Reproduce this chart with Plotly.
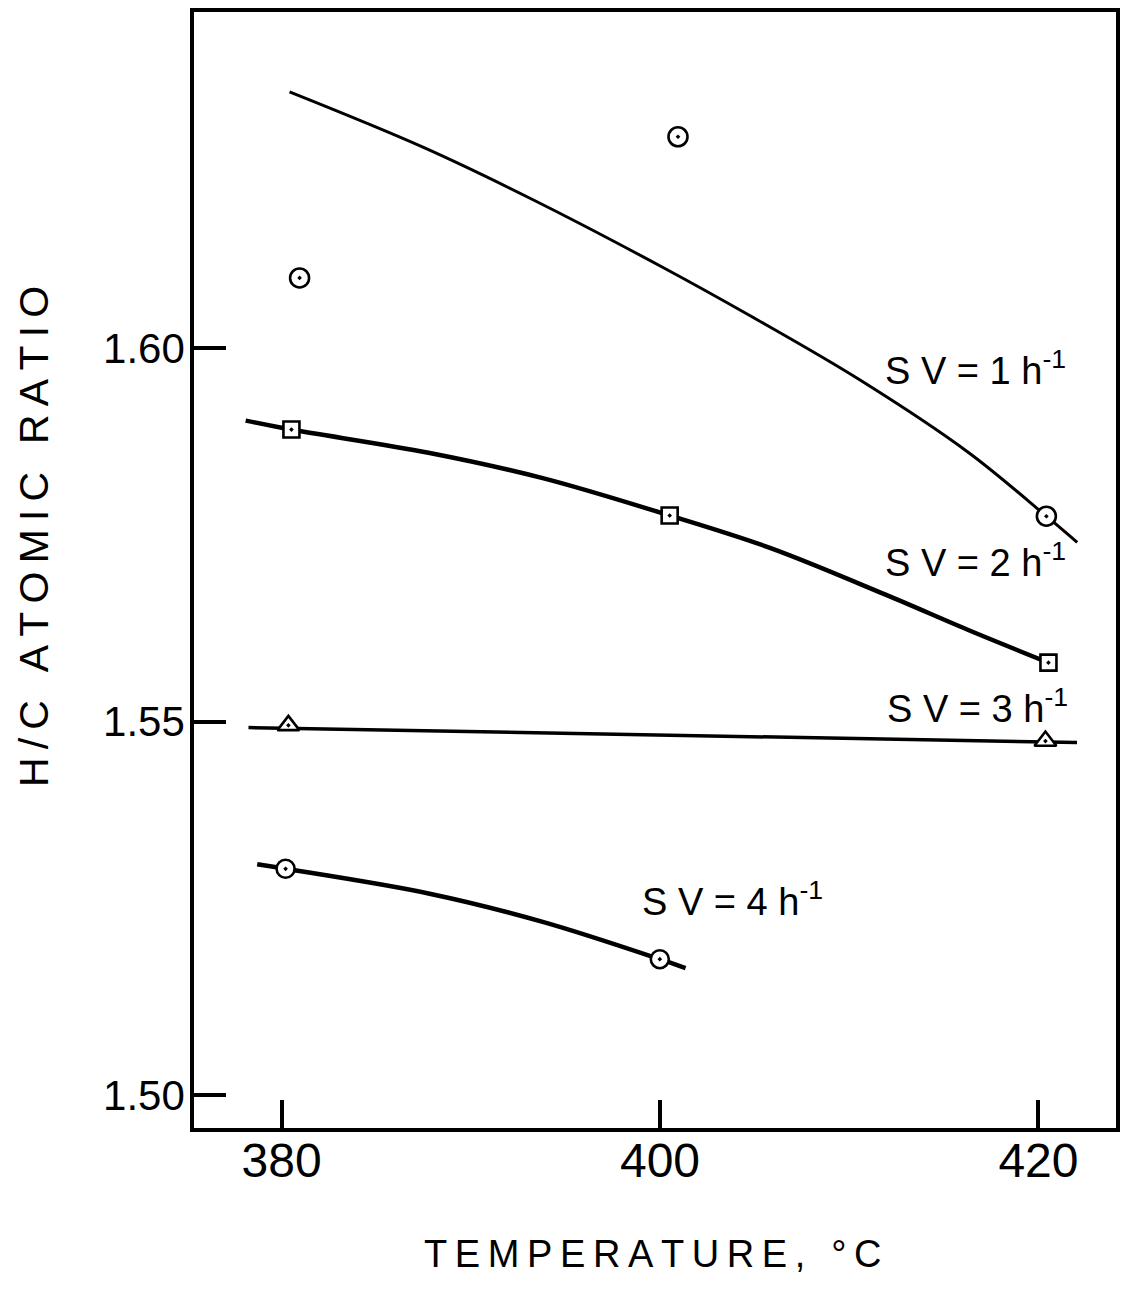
import plotly.graph_objects as go

# Smoothed fit curves, one per space velocity (temperature in degC, H/C ratio)
sv1_curve_t = [380.42, 387.47, 393.26, 400.16, 404.79, 410.53, 416.32, 420.42, 422.05]
sv1_curve_hc = [1.6343, 1.6269, 1.6199, 1.6108, 1.6043, 1.5958, 1.5860, 1.5775, 1.5740]
sv2_curve_t = [378.10, 380.52, 387.76, 393.80, 400.51, 405.88, 411.92, 416.45, 420.53]
sv2_curve_hc = [1.5903, 1.5891, 1.5860, 1.5826, 1.5776, 1.5732, 1.5670, 1.5621, 1.5579]
sv3_curve_t = [378.25, 422.04]
sv3_curve_hc = [1.5492, 1.5472]
sv4_curve_t = [378.71, 380.21, 387.76, 393.80, 399.99, 401.35]
sv4_curve_hc = [1.5309, 1.5303, 1.5270, 1.5232, 1.5182, 1.5170]

# Measured points
sv1_t = [380.95, 400.95, 420.42]
sv1_hc = [1.6094, 1.6283, 1.5775]
sv2_t = [380.52, 400.51, 420.53]
sv2_hc = [1.5891, 1.5776, 1.5579]
sv3_t = [380.36, 420.37]
sv3_hc = [1.5495, 1.5474]
sv4_t = [380.21, 399.99]
sv4_hc = [1.5303, 1.5182]

x_ticks = [380, 400, 420]
y_ticks = [1.50, 1.55, 1.60]
y_tick_labels = ["1.50", "1.55", "1.60"]

curve_labels = ["1", "2", "3", "4"]
label_t = [411.8, 411.8, 411.9, 398.95]
label_hc = [1.5974, 1.5717, 1.5521, 1.5263]

FONT = "Liberation Sans"
INK = "black"


def spaced(text, sep="\u2009"):
    """Hand-lettered look: open up the letter spacing."""
    return sep.join(text)


fig = go.Figure()

curves = [
    (sv1_curve_t, sv1_curve_hc, 3),
    (sv2_curve_t, sv2_curve_hc, 4.5),
    (sv3_curve_t, sv3_curve_hc, 3.5),
    (sv4_curve_t, sv4_curve_hc, 4.5),
]
for t, hc, w in curves:
    fig.add_trace(go.Scatter(
        x=t, y=hc, mode="lines",
        line=dict(color=INK, width=w, shape="spline", smoothing=1.0),
        hoverinfo="skip", showlegend=False,
    ))

points = [
    (sv1_t, sv1_hc, "circle-dot", 19),
    (sv2_t, sv2_hc, "square-dot", 16),
    (sv3_t, sv3_hc, "triangle-up-dot", 19),
    (sv4_t, sv4_hc, "circle-dot", 18),
]
for t, hc, sym, size in points:
    fig.add_trace(go.Scatter(
        x=t, y=hc, mode="markers",
        marker=dict(symbol=sym, size=size, color="white",
                    line=dict(color=INK, width=2.6)),
        showlegend=False,
    ))

for lab, t, hc in zip(curve_labels, label_t, label_hc):
    fig.add_annotation(
        x=t, y=hc, xref="x", yref="y", xanchor="left", yanchor="middle",
        text="S V = " + lab + " h<sup>-1</sup>", showarrow=False,
        font=dict(family=FONT, size=38, color=INK),
    )

# Axis titles
fig.add_annotation(
    x=-0.174, y=0.53, xref="paper", yref="paper",
    text=spaced("H/C ATOMIC RATIO"), textangle=-90, showarrow=False,
    xanchor="center", yanchor="middle",
    font=dict(family=FONT, size=41, color=INK),
)
fig.add_annotation(
    x=0.497, y=-0.113, xref="paper", yref="paper",
    text=spaced("TEMPERATURE, °C"), showarrow=False,
    xanchor="center", yanchor="middle",
    font=dict(family=FONT, size=38, color=INK),
)

fig.update_xaxes(
    range=[375.37, 424.1], tickvals=x_ticks, ticks="inside", ticklen=28,
    tickwidth=3.5, tickcolor=INK, showline=True, linewidth=3.5, linecolor=INK,
    mirror=True, showgrid=False, zeroline=False, ticklabelstandoff=-12,
    tickfont=dict(family=FONT, size=48, color=INK),
)
fig.update_yaxes(
    range=[1.4956, 1.6450], tickvals=y_ticks, ticktext=y_tick_labels,
    ticks="inside", ticklen=32, tickwidth=3.5, tickcolor=INK,
    showline=True, linewidth=3.5, linecolor=INK, mirror=True,
    showgrid=False, zeroline=False, ticklabelstandoff=-3,
    tickfont=dict(family=FONT, size=42, color=INK),
)

fig.update_layout(
    width=1126, height=1292,
    margin=dict(l=194, r=6, t=12, b=164),
    paper_bgcolor="white", plot_bgcolor="white",
    showlegend=False,
)

fig.write_html("out.html")
